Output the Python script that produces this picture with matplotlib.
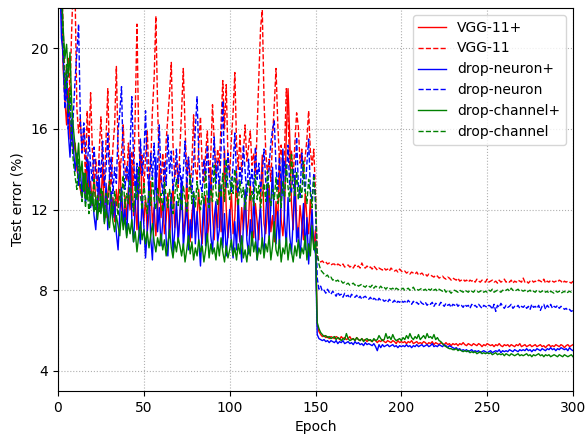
import matplotlib
matplotlib.use("Agg")
import matplotlib.pyplot as plt
import numpy as np

epochs = list(range(1, 301))

vgg_plus = [
25, 22, 19, 17.5, 16.2, 18.0, 15.5, 16.4, 14.8, 15.3,
14.0, 13.5, 13.0, 12.6, 13.8, 12.8, 14.6, 12.9, 13.4, 12.2,
13.7, 12.5, 11.9, 13.2, 12.4, 14.1, 12.0, 11.6, 12.8, 13.5,
11.8, 12.6, 11.4, 13.0, 12.1, 14.4, 12.3, 11.2, 12.7, 11.5,
13.1, 12.0, 14.2, 11.7, 12.5, 11.0, 12.9, 15.1, 12.2, 11.4,
12.6, 10.9, 11.8, 13.4, 11.3, 12.1, 10.7, 11.9, 14.0, 11.6,
12.4, 10.8, 11.5, 12.8, 10.6, 11.9, 13.3, 11.1, 12.0, 10.5,
11.7, 12.9, 10.8, 11.5, 13.6, 11.2, 10.4, 11.8, 12.5, 10.9,
11.6, 13.0, 11.0, 10.3, 11.9, 12.7, 10.6, 11.4, 14.1, 11.8,
10.5, 12.2, 11.1, 13.5, 10.9, 11.7, 15.0, 12.0, 10.6, 11.5,
12.8, 10.8, 11.6, 13.9, 11.2, 10.4, 12.1, 11.0, 12.9, 10.7,
11.5, 13.4, 11.1, 10.6, 12.3, 11.4, 10.5, 12.6, 14.7, 11.3,
10.8, 11.9, 13.2, 10.9, 11.7, 10.4, 12.4, 11.2, 14.6, 11.5,
10.7, 12.0, 15.8, 18.0, 15.6, 12.3, 11.0, 13.7, 11.4, 10.6,
12.2, 11.3, 10.5, 12.8, 11.6, 10.8, 12.5, 11.1, 10.2, 11.0,
6.3, 5.95, 5.8, 5.7, 5.75, 5.65, 5.7, 5.6, 5.7, 5.65,
5.6, 5.7, 5.65, 5.55, 5.7, 5.6, 5.65, 5.55, 5.6, 5.7,
5.55, 5.6, 5.5, 5.65, 5.55, 5.5, 5.6, 5.5, 5.55, 5.45,
5.55, 5.5, 5.45, 5.55, 5.5, 5.4, 5.5, 5.45, 5.55, 5.45,
5.4, 5.5, 5.45, 5.4, 5.5, 5.45, 5.35, 5.5, 5.4, 5.45,
5.4, 5.45, 5.35, 5.45, 5.4, 5.5, 5.35, 5.4, 5.45, 5.35,
5.4, 5.35, 5.45, 5.4, 5.3, 5.4, 5.35, 5.45, 5.3, 5.4,
5.35, 5.3, 5.4, 5.35, 5.3, 5.4, 5.3, 5.35, 5.25, 5.35,
5.3, 5.35, 5.25, 5.35, 5.3, 5.4, 5.3, 5.25, 5.35, 5.3,
5.25, 5.35, 5.3, 5.25, 5.35, 5.3, 5.2, 5.3, 5.25, 5.35,
5.3, 5.25, 5.3, 5.2, 5.3, 5.25, 5.35, 5.25, 5.2, 5.3,
5.25, 5.3, 5.2, 5.3, 5.25, 5.2, 5.3, 5.25, 5.35, 5.2,
5.25, 5.3, 5.2, 5.25, 5.3, 5.2, 5.25, 5.3, 5.2, 5.25,
5.3, 5.2, 5.25, 5.15, 5.25, 5.3, 5.2, 5.25, 5.2, 5.3,
5.25, 5.2, 5.3, 5.25, 5.15, 5.25, 5.3, 5.2, 5.25, 5.3]

vgg = [
28, 24, 21, 18.7, 17.5, 19.5, 17.8, 21.0, 23.5, 22.5,
17.0, 15.8, 16.5, 14.8, 15.9, 13.5, 16.9, 15.2, 17.8, 15.0,
13.2, 14.5, 13.0, 14.9, 16.6, 14.3, 13.1, 15.5, 18.0, 14.6,
13.2, 15.1, 16.2, 19.1, 15.0, 13.6, 14.8, 16.2, 14.1, 13.4,
15.3, 13.7, 14.9, 13.2, 16.8, 21.2, 15.6, 13.8, 14.7, 13.1,
14.5, 15.9, 13.5, 14.2, 16.9, 18.5, 21.6, 17.2, 14.1, 13.3,
14.8, 13.0, 15.4, 16.6, 17.8, 19.3, 15.2, 13.6, 14.4, 13.1,
15.0, 16.9, 19.0, 16.1, 13.8, 14.6, 13.0, 14.3, 16.7, 14.0,
13.5, 15.2, 16.6, 14.1, 13.3, 14.8, 15.9, 13.6, 14.7, 17.2,
15.4, 13.8, 15.0, 14.2, 16.3, 18.4, 16.0, 18.2, 14.6, 13.7,
15.5, 16.8, 18.8, 15.3, 14.0, 15.7, 13.9, 14.8, 16.2, 14.4,
15.1, 15.9, 14.2, 14.8, 13.6, 16.0, 18.6, 21.0, 21.9, 17.5,
14.9, 13.8, 14.5, 13.4, 15.6, 17.2, 19.0, 16.3, 14.4, 15.2,
13.9, 15.0, 18.0, 16.7, 14.1, 14.9, 13.6, 15.3, 16.8, 16.1,
14.3, 15.0, 13.8, 14.6, 15.5, 16.9, 14.9, 14.2, 15.0, 12.8,
9.6, 9.5, 9.4, 9.45, 9.35, 9.4, 9.3, 9.35, 9.25, 9.3,
9.3, 9.2, 9.3, 9.25, 9.2, 9.3, 9.15, 9.2, 9.25, 9.15,
9.2, 9.1, 9.25, 9.15, 9.2, 9.1, 9.35, 9.15, 9.1, 9.2,
9.1, 9.15, 9.05, 9.2, 9.1, 9.0, 9.1, 9.05, 9.0, 9.1,
9.0, 9.05, 8.95, 9.1, 9.0, 8.95, 9.0, 8.9, 9.05, 8.95,
8.9, 8.95, 8.85, 8.9, 8.8, 8.9, 8.85, 8.8, 8.9, 8.75,
8.8, 8.85, 8.75, 8.8, 8.7, 8.8, 8.75, 8.7, 8.65, 8.75,
8.7, 8.6, 8.65, 8.7, 8.6, 8.55, 8.65, 8.6, 8.5, 8.6,
8.55, 8.5, 8.6, 8.45, 8.5, 8.55, 8.45, 8.5, 8.4, 8.5,
8.45, 8.5, 8.4, 8.55, 8.45, 8.4, 8.5, 8.45, 8.4, 8.55,
8.4, 8.45, 8.5, 8.4, 8.45, 8.35, 8.5, 8.4, 8.45, 8.55,
8.4, 8.45, 8.4, 8.5, 8.35, 8.45, 8.4, 8.5, 8.45, 8.4,
8.6, 8.4, 8.45, 8.35, 8.45, 8.5, 8.4, 8.45, 8.4, 8.5,
8.45, 8.4, 8.55, 8.35, 8.45, 8.4, 8.5, 8.45, 8.4, 8.45,
8.4, 8.5, 8.45, 8.35, 8.45, 8.4, 8.45, 8.4, 8.35, 8.45]

neuron_plus = [
24, 20.5, 19.8, 17.5, 19.0, 15.8, 14.6, 16.5, 15.0, 13.9,
14.8, 13.2, 14.1, 12.6, 13.8, 12.3, 13.0, 14.4, 12.1, 12.8,
11.7, 11.0, 12.5, 13.6, 11.9, 12.7, 11.4, 13.3, 11.0, 12.2,
12.9, 11.6, 12.4, 10.8, 10.0, 11.8, 13.1, 11.3, 12.0, 10.7,
12.6, 14.8, 11.5, 10.4, 12.2, 13.9, 11.1, 10.3, 12.7, 11.2,
9.6, 11.0, 13.5, 10.6, 9.5, 11.8, 14.6, 10.9, 12.1, 10.2,
11.4, 13.0, 10.5, 9.7, 11.6, 12.8, 9.8, 10.9, 12.4, 10.4,
11.7, 13.6, 10.1, 11.2, 12.3, 10.0, 11.5, 10.6, 12.9, 10.3,
11.9, 10.5, 9.2, 11.1, 12.6, 10.2, 11.3, 13.4, 10.7, 9.9,
11.6, 12.4, 10.4, 11.0, 13.2, 10.1, 11.8, 9.7, 10.8, 12.0,
10.3, 9.6, 11.4, 10.0, 12.5, 10.6, 9.4, 11.2, 13.0, 10.5,
9.8, 11.5, 10.2, 12.7, 10.8, 9.5, 11.3, 12.1, 10.4, 9.9,
11.7, 13.3, 10.6, 12.2, 14.1, 11.0, 10.3, 11.9, 10.1, 12.8,
15.0, 11.4, 10.2, 12.6, 10.7, 9.8, 11.5, 13.4, 10.4, 11.1,
9.6, 10.9, 12.3, 10.0, 11.6, 9.3, 10.8, 12.0, 10.2, 9.8,
5.8, 5.6, 5.55, 5.5, 5.55, 5.45, 5.5, 5.4, 5.5, 5.45,
5.4, 5.5, 5.35, 5.45, 5.4, 5.5, 5.35, 5.4, 5.45, 5.35,
5.4, 5.3, 5.45, 5.35, 5.4, 5.3, 5.35, 5.25, 5.4, 5.3,
5.35, 5.3, 5.25, 5.35, 5.2, 5.0, 5.3, 5.15, 5.3, 5.2,
5.25, 5.3, 5.2, 5.25, 5.3, 5.2, 5.25, 5.15, 5.25, 5.2,
5.25, 5.2, 5.3, 5.2, 5.25, 5.15, 5.25, 5.2, 5.3, 5.2,
5.25, 5.3, 5.2, 5.25, 5.3, 5.2, 5.25, 5.35, 5.2, 5.25,
5.2, 5.3, 5.25, 5.2, 5.3, 5.25, 5.15, 5.25, 5.2, 5.15,
5.1, 5.15, 5.05, 5.1, 5.0, 5.05, 5.0, 5.05, 4.95, 5.0,
5.05, 4.95, 5.0, 4.95, 5.0, 4.9, 4.95, 5.0, 4.95, 4.9,
4.95, 5.0, 4.9, 4.95, 5.0, 4.95, 5.05, 4.9, 5.0, 4.95,
5.0, 4.95, 5.05, 5.0, 4.95, 5.05, 5.0, 4.95, 5.05, 5.0,
5.05, 5.0, 5.1, 5.0, 5.05, 4.95, 5.05, 5.0, 5.1, 5.05,
5.0, 5.1, 5.05, 5.0, 5.1, 5.05, 5.15, 5.05, 5.1, 5.0,
5.1, 5.05, 5.15, 5.1, 5.05, 5.1, 5.0, 5.15, 5.05, 5.0]

neuron = [
27, 22, 19.5, 17.0, 18.4, 16.0, 17.6, 15.2, 16.8, 18.5,
19.8, 21.2, 16.5, 14.8, 16.3, 15.0, 13.9, 15.6, 14.2, 13.4,
15.1, 13.8, 12.9, 14.5, 13.6, 15.4, 13.2, 14.0, 15.8, 13.5,
14.6, 12.8, 14.1, 13.3, 15.9, 16.8, 18.1, 14.4, 13.0, 14.2,
13.4, 15.0, 17.6, 14.5, 13.1, 14.3, 12.8, 15.5, 13.7, 14.6,
16.9, 13.9, 12.9, 14.8, 13.5, 15.3, 13.0, 14.1, 16.2, 13.6,
12.8, 14.4, 13.2, 15.7, 13.8, 14.9, 12.9, 13.7, 15.0, 13.3,
14.2, 12.7, 13.9, 15.4, 13.1, 14.6, 13.5, 12.8, 14.3, 16.0,
17.6, 14.7, 13.2, 12.9, 14.5, 13.6, 15.2, 13.4, 12.8, 14.0,
15.6, 13.3, 14.4, 12.9, 15.0, 17.4, 14.2, 13.1, 14.8, 13.5,
12.9, 14.3, 15.8, 13.6, 12.8, 14.1, 13.3, 15.2, 13.9, 12.7,
14.5, 13.2, 14.0, 12.8, 15.1, 13.5, 14.3, 12.9, 13.8, 15.0,
13.4, 12.8, 14.2, 15.3, 16.0, 16.4, 14.1, 13.0, 14.6, 13.3,
12.7, 14.4, 13.6, 15.2, 13.1, 12.8, 14.0, 13.4, 15.6, 13.2,
12.6, 14.8, 13.5, 12.9, 14.3, 15.5, 13.0, 12.4, 13.8, 12.2,
8.6, 8.05, 8.2, 7.95, 8.0, 7.85, 8.05, 7.9, 7.8, 7.95,
7.85, 7.7, 7.9, 7.75, 7.8, 7.65, 7.85, 7.7, 7.75, 7.6,
7.8, 7.7, 7.65, 7.75, 7.6, 7.7, 7.55, 7.65, 7.7, 7.6,
7.55, 7.65, 7.5, 7.6, 7.55, 7.45, 7.6, 7.5, 7.55, 7.45,
7.5, 7.4, 7.55, 7.45, 7.4, 7.5, 7.35, 7.45, 7.4, 7.5,
7.4, 7.45, 7.35, 7.5, 7.4, 7.3, 7.45, 7.35, 7.4, 7.3,
7.45, 7.35, 7.3, 7.4, 7.25, 7.35, 7.3, 7.4, 7.2, 7.35,
7.3, 7.25, 7.4, 7.3, 7.2, 7.35, 7.25, 7.3, 7.15, 7.3,
7.25, 7.35, 7.2, 7.3, 7.25, 7.15, 7.3, 7.2, 7.25, 7.1,
7.3, 7.2, 7.25, 7.15, 7.3, 7.2, 7.1, 7.25, 7.2, 7.15,
7.25, 7.2, 7.05, 7.3, 6.95, 7.25, 7.15, 7.35, 7.2, 7.1,
7.25, 7.15, 7.2, 7.3, 7.1, 7.2, 7.15, 7.25, 7.1, 7.2,
7.15, 7.25, 7.1, 7.2, 7.05, 7.3, 7.15, 7.2, 7.1, 7.25,
7.0, 7.2, 7.3, 7.05, 7.25, 7.15, 7.3, 7.1, 7.2, 7.15,
7.25, 7.1, 7.2, 7.15, 7.05, 7.1, 7.0, 7.05, 6.95, 7.0]

channel_plus = [
26, 23, 21, 19.5, 20.2, 18.6, 19.8, 17.2, 16.0, 15.1,
14.2, 15.3, 13.6, 14.4, 12.9, 13.8, 12.5, 13.1, 12.2, 12.8,
11.9, 12.6, 11.5, 12.3, 11.8, 12.9, 11.3, 12.0, 11.6, 11.1,
12.2, 11.4, 10.9, 11.7, 11.2, 10.7, 11.9, 11.0, 11.6, 10.6,
11.3, 10.8, 11.5, 10.4, 10.9, 9.9, 10.7, 11.4, 10.5, 11.0,
10.3, 10.9, 10.1, 10.7, 11.3, 10.4, 9.9, 10.6, 10.2, 10.8,
10.0, 10.5, 9.7, 10.3, 11.0, 10.1, 9.6, 10.4, 9.9, 10.6,
10.2, 9.7, 10.3, 9.4, 10.0, 10.7, 9.8, 10.4, 9.5, 10.1,
9.7, 10.5, 9.9, 10.2, 9.4, 10.0, 10.8, 9.6, 10.3, 9.8,
10.1, 9.5, 10.4, 9.7, 10.6, 9.9, 9.4, 10.2, 9.6, 10.0,
10.5, 9.7, 10.1, 9.5, 10.3, 9.8, 10.7, 9.6, 10.0, 9.4,
10.2, 9.7, 10.9, 9.9, 10.4, 9.5, 10.1, 9.8, 10.6, 9.6,
10.3, 9.9, 10.7, 9.5, 10.2, 11.4, 10.0, 9.7, 10.5, 9.4,
10.1, 9.8, 10.6, 9.5, 10.3, 9.9, 9.4, 10.2, 9.7, 10.5,
9.6, 10.1, 9.8, 10.7, 9.5, 10.3, 9.7, 11.2, 10.0, 10.4,
6.4, 6.1, 5.9, 5.8, 5.7, 5.75, 5.65, 5.7, 5.6, 5.65,
5.7, 5.55, 5.65, 5.6, 5.5, 5.6, 5.55, 5.85, 5.6, 5.5,
5.55, 5.6, 5.5, 5.65, 5.55, 5.5, 5.6, 5.45, 5.55, 5.6,
5.5, 5.55, 5.45, 5.6, 5.5, 5.55, 5.75, 5.6, 5.5, 5.55,
5.85, 5.6, 5.7, 5.55, 5.8, 5.6, 5.5, 5.55, 5.6, 5.5,
5.65, 5.55, 5.75, 5.6, 5.85, 5.65, 5.55, 5.7, 5.6, 5.8,
5.55, 5.65, 5.75, 5.6, 5.85, 5.65, 5.7, 5.6, 5.8, 5.55,
5.65, 5.5, 5.45, 5.35, 5.25, 5.2, 5.15, 5.1, 5.1, 5.05,
5.05, 5.1, 5.0, 5.05, 5.0, 4.95, 5.0, 4.95, 5.0, 4.9,
4.95, 4.9, 4.95, 4.85, 4.9, 4.95, 4.85, 4.9, 4.85, 4.9,
4.85, 4.9, 4.8, 4.85, 4.9, 4.8, 4.85, 4.8, 4.85, 4.75,
4.85, 4.8, 4.75, 4.85, 4.8, 4.75, 4.8, 4.85, 4.75, 4.8,
4.75, 4.8, 4.85, 4.75, 4.8, 4.7, 4.8, 4.75, 4.8, 4.85,
4.75, 4.8, 4.7, 4.8, 4.75, 4.8, 4.7, 4.75, 4.8, 4.75,
4.7, 4.8, 4.75, 4.7, 4.8, 4.75, 4.7, 4.75, 4.8, 4.7]

channel = [
27, 23, 20.5, 18.0, 19.2, 16.8, 17.9, 15.4, 14.3, 13.6,
13.0, 14.5, 13.2, 12.4, 13.8, 12.1, 13.3, 11.8, 12.9, 12.3,
13.5, 12.0, 12.7, 11.9, 13.1, 12.4, 11.6, 12.8, 12.2, 13.4,
12.5, 11.8, 12.9, 12.3, 11.7, 13.0, 12.4, 13.7, 12.1, 12.8,
12.3, 13.5, 12.6, 11.9, 13.2, 12.5, 14.1, 12.7, 12.0, 13.3,
12.4, 11.8, 12.9, 12.2, 13.6, 12.5, 12.0, 13.1, 12.3, 12.8,
11.9, 13.4, 12.6, 12.1, 13.0, 12.4, 11.8, 12.7, 13.5, 12.2,
12.8, 12.0, 13.2, 12.5, 11.9, 12.6, 13.7, 12.3, 12.9, 12.1,
13.4, 12.6, 12.0, 12.8, 12.3, 13.9, 12.5, 12.1, 13.0, 12.4,
14.2, 12.9, 12.2, 13.3, 12.6, 13.8, 12.4, 14.5, 13.1, 12.5,
13.6, 12.8, 14.0, 12.7, 12.2, 13.4, 12.6, 13.1, 12.0, 12.9,
13.5, 12.4, 12.9, 12.2, 13.7, 12.5, 13.2, 12.1, 12.8, 13.3,
12.4, 13.9, 12.7, 12.2, 13.0, 12.5, 13.6, 12.3, 12.9, 12.1,
13.4, 12.6, 14.2, 13.1, 12.4, 14.8, 13.3, 12.7, 13.9, 12.5,
13.2, 12.6, 14.4, 13.0, 12.3, 13.5, 12.8, 12.1, 13.6, 12.6,
9.9, 9.3, 9.0, 8.9, 8.8, 8.7, 8.75, 8.6, 8.65, 8.5,
8.55, 8.45, 8.5, 8.4, 8.45, 8.35, 8.4, 8.3, 8.35, 8.25,
8.3, 8.35, 8.25, 8.3, 8.2, 8.25, 8.3, 8.2, 8.15, 8.25,
8.2, 8.15, 8.25, 8.1, 8.2, 8.15, 8.1, 8.2, 8.1, 8.15,
8.05, 8.15, 8.1, 8.05, 8.1, 8.0, 8.1, 8.05, 8.0, 8.05,
8.1, 8.0, 8.05, 8.1, 8.0, 8.05, 8.15, 8.0, 8.05, 8.0,
8.05, 8.1, 8.0, 8.05, 7.95, 8.05, 8.0, 8.1, 8.0, 8.05,
7.95, 8.05, 8.0, 7.95, 8.05, 7.9, 8.0, 7.95, 7.85, 7.95,
8.0, 7.95, 7.9, 8.0, 7.95, 7.9, 8.0, 7.95, 7.9, 8.0,
7.95, 7.9, 8.0, 7.95, 7.9, 7.95, 8.0, 7.9, 7.95, 7.9,
8.0, 7.95, 8.05, 7.9, 7.95, 8.0, 7.95, 7.9, 8.0, 7.95,
8.0, 8.05, 7.95, 8.1, 8.0, 7.95, 8.0, 8.05, 7.95, 8.0,
7.95, 8.0, 7.9, 7.95, 8.0, 7.9, 7.95, 7.9, 8.0, 7.95,
7.9, 7.95, 8.0, 7.9, 7.95, 7.85, 7.95, 7.9, 7.85, 7.95,
7.9, 7.95, 7.85, 7.9, 7.95, 7.85, 7.9, 7.95, 7.9, 7.95]

labels = ["VGG-11+", "VGG-11", "drop-neuron+", "drop-neuron", "drop-channel+", "drop-channel"]
series = [vgg_plus, vgg, neuron_plus, neuron, channel_plus, channel]
colors = ["red", "red", "blue", "blue", "green", "green"]
styles = ["-", "--", "-", "--", "-", "--"]

fig = plt.figure(figsize=(5.87, 4.36), dpi=100)
ax = fig.add_axes([58/587, 1 - 391/436, (573 - 58)/587, (391 - 8)/436])
for y, lab, c, ls in zip(series, labels, colors, styles):
    ax.plot(epochs, y, color=c, linestyle=ls, linewidth=1.0, label=lab)

ax.set_xlim(0, 300)
ax.set_ylim(3, 22)
ax.set_xticks([0, 50, 100, 150, 200, 250, 300])
ax.set_yticks([4, 8, 12, 16, 20])
ax.grid(True, linestyle=":", color="#b0b0b0", linewidth=0.8)
ax.set_xlabel("Epoch", fontsize=10)
ax.set_ylabel("Test error (%)", fontsize=10)
ax.tick_params(labelsize=10)
ax.legend(loc="upper right", fontsize=10, handlelength=2.0, framealpha=0.8)
fig.savefig("out.png", dpi=100)
